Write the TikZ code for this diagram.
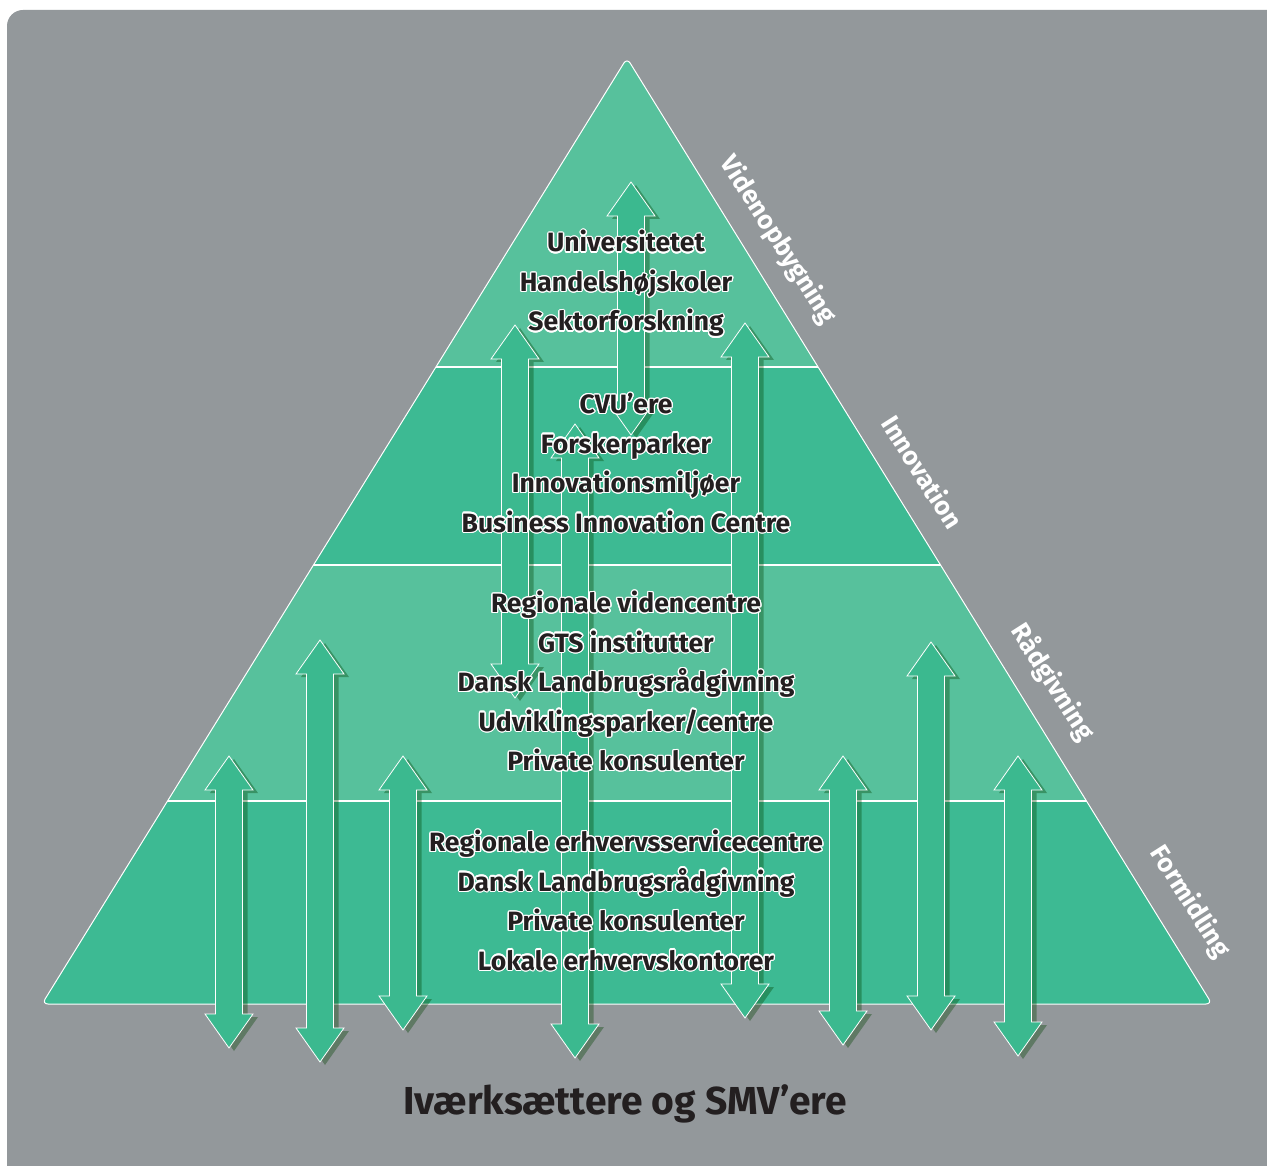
\documentclass[tikz,border=0pt]{standalone}
\usepackage{fontspec}
\setmainfont{Fira Sans}
\usepackage[copies]{contour}
\usetikzlibrary{shadows}

\definecolor{bggray}{HTML}{93989B}
\definecolor{bandlight}{HTML}{57C19C}
\definecolor{banddark}{HTML}{3DBA93}
\definecolor{arrowgreen}{HTML}{3BB98F}
\definecolor{textblack}{HTML}{231F20}

\contourlength{1.3pt}
\newcommand{\olt}[1]{\contour{white}{#1}}

\tikzset{
  arrowbody/.style={fill=arrowgreen, draw=white, line width=0.8pt, line join=miter,
    drop shadow={shadow xshift=5pt, shadow yshift=-3pt, opacity=0.35, fill=black!75!green}},
  bandline/.style={draw=white, line width=2.5pt},
  bandtext/.style={anchor=base, text=textblack, font=\fontsize{26.5}{26.5}\selectfont\bfseries},
  sidelabel/.style={text=white, rotate=-57.5, font=\fontsize{26}{26}\selectfont\bfseries},
  titletext/.style={anchor=base, text=textblack, font=\fontsize{39}{39}\selectfont\bfseries}
}

\begin{document}
\begin{tikzpicture}[x=1pt,y=-1pt]
  \useasboundingbox (0,0) rectangle (1267,1166);
  \fill[white] (0,0) rectangle (1267,1166);
  \clip (0,0) rectangle (1267,1166);
  \fill[bggray, rounded corners=16] (7,10) rectangle (1300,1200);

  \coordinate (apex) at (627,58);
  \coordinate (baseL) at (42,1004);
  \coordinate (baseR) at (1212,1004);

  % pyramid bands
  \begin{scope}
    \clip[rounded corners=6] (apex) -- (baseR) -- (baseL) -- cycle;
    \fill[bandlight] (0,0) rectangle (1267,367);
    \fill[banddark] (0,367) rectangle (1267,565);
    \fill[bandlight] (0,565) rectangle (1267,801);
    \fill[banddark] (0,801) rectangle (1267,1010);
    \foreach \yl in {367,565,801}
      \draw[bandline] (0,\yl) -- (1267,\yl);
  \end{scope}
  \draw[white, line width=1pt, rounded corners=6] (apex) -- (baseR) -- (baseL) -- cycle;

  % double arrows: centre / top tip / bottom tip
  \foreach \xc/\yt/\yb in {631/182/435, 515/325/698, 745/323/1018, 575/424/1058,
                           229/756/1048, 320/640/1062, 403/756/1030,
                           843/756/1045, 931/642/1030, 1018/756/1056}
    \filldraw[arrowbody] (\xc,\yt) -- (\xc+24,\yt+34) -- (\xc+13.5,\yt+34)
      -- (\xc+13.5,\yb-34) -- (\xc+24,\yb-34) -- (\xc,\yb) -- (\xc-24,\yb-34)
      -- (\xc-13.5,\yb-34) -- (\xc-13.5,\yt+34) -- (\xc-24,\yt+34) -- cycle;

  % band texts
  \foreach \txt [count=\i from 0] in {Universitetet, Handelshøjskoler, Sektorforskning}
    \node[bandtext] (vb\i) at (626,252+39.5*\i) {\olt{\txt}};
  \foreach \txt [count=\i from 0] in {CVU’ere, Forskerparker, Innovationsmiljøer,
                                      Business Innovation Centre}
    \node[bandtext] (in\i) at (626,413.5+39.5*\i) {\olt{\txt}};
  \foreach \txt [count=\i from 0] in {Regionale videncentre, GTS institutter,
                                      Dansk Landbrugsrådgivning, Udviklingsparker/centre,
                                      Private konsulenter}
    \node[bandtext] (rg\i) at (626,612.5+39.5*\i) {\olt{\txt}};
  \foreach \txt [count=\i from 0] in {Regionale erhvervsservicecentre,
                                      Dansk Landbrugsrådgivning, Private konsulenter,
                                      Lokale erhvervskontorer}
    \node[bandtext] (fm\i) at (626,851.5+39.5*\i) {\olt{\txt}};

  % side labels
  \node[sidelabel] (lblvid) at (778,240) {Videnopbygning};
  \node[sidelabel] (lblinn) at (923,472) {Innovation};
  \node[sidelabel] (lblrad) at (1053,682) {Rådgivning};
  \node[sidelabel] (lblfor) at (1190,902) {Formidling};

  \node[titletext] (title) at (625,1114) {Iværksættere og SMV’ere};
\end{tikzpicture}
\end{document}
